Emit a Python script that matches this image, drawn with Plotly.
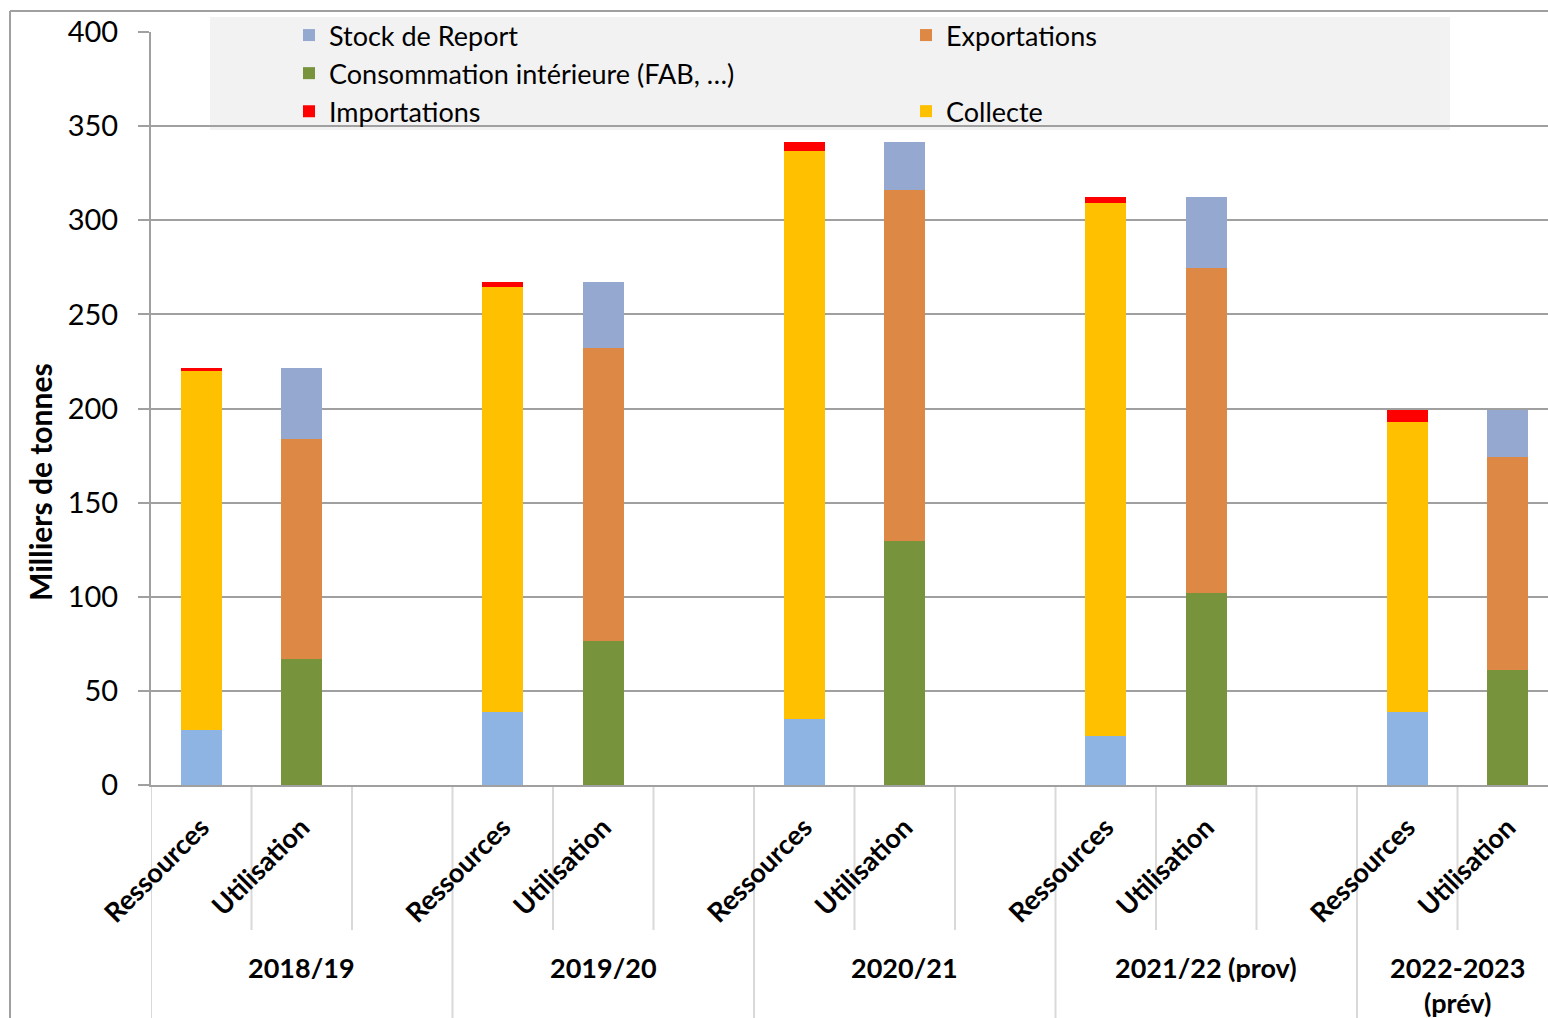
import plotly.graph_objects as go

# ---------------- data ----------------
years = ["2018/19", "2019/20", "2020/21", "2021/22 (prov)", "2022-2023<br>(prév)"]
sides = ["Ressources", "Utilisation"]
slots_per_group = [3, 3, 3, 3, 2]

stock_initial = [29, 39, 35, 26, 39]          # Ressources
collecte = [191, 225.5, 302, 283, 154]         # Ressources
importations = [1.5, 2.5, 4.5, 3.5, 6]         # Ressources
conso = [67, 76.5, 129.5, 102, 61]             # Utilisation
exportations = [117, 155.5, 186.5, 172.5, 113] # Utilisation
stock_report = [37.5, 35, 25.5, 38, 25]        # Utilisation

y_ticks = [0, 50, 100, 150, 200, 250, 300, 350, 400]

# ---------------- layout helpers ----------------
W, H = 1548, 1018
ML, MR, MT, MB = 151, 0, 32, 233
PW, PH = W - ML - MR, H - MT - MB
SLOT_PX = 100.5

def px_to_paper_x(px):
    return (px - ML) / PW

def px_to_paper_y(py):
    return (H - MB - py) / PH

starts = []
s = 0
for n in slots_per_group:
    starts.append(s)
    s += n
res_x = [st + 0.5 for st in starts]
util_x = [st + 1.5 for st in starts]

FONT = "Lato"
C_STOCK_INIT = "#8DB4E2"
C_STOCK = "#95A9D0"
C_COLLECTE = "#FFC000"
C_IMPORT = "#FF0000"
C_CONSO = "#77933C"
C_EXPORT = "#DD8844"

fig = go.Figure()
bw = 0.41

fig.add_trace(go.Bar(x=res_x, y=stock_initial, width=bw, marker_color=C_STOCK_INIT,
                     name="Stock de Report", legendgroup="stock", showlegend=False))
fig.add_trace(go.Bar(x=res_x, y=collecte, width=bw, marker_color=C_COLLECTE,
                     name="Collecte", legendgroup="collecte", legend="legend2", legendrank=2))
fig.add_trace(go.Bar(x=res_x, y=importations, width=bw, marker_color=C_IMPORT,
                     name="Importations", legendgroup="import", legendrank=3))
fig.add_trace(go.Bar(x=util_x, y=conso, width=bw, marker_color=C_CONSO,
                     name="Consommation intérieure (FAB, …)", legendgroup="conso", legendrank=2))
fig.add_trace(go.Bar(x=util_x, y=exportations, width=bw, marker_color=C_EXPORT,
                     name="Exportations", legendgroup="export", legend="legend2", legendrank=1))
fig.add_trace(go.Bar(x=util_x, y=stock_report, width=bw, marker_color=C_STOCK,
                     name="Stock de Report", legendgroup="stock", legendrank=1))

for tr in fig.data:
    tr.marker.line.width = 0

# tick labels for sub categories
tickvals, ticktext = [], []
for i in range(len(years)):
    tickvals += [res_x[i], util_x[i]]
    ticktext += sides

shapes = []
GRAY = "#A0A0A0"
LIGHT = "#D9D9D9"
# legend background
shapes.append(dict(type="rect", xref="paper", yref="paper", layer="between",
                   x0=px_to_paper_x(210), x1=px_to_paper_x(1450),
                   y0=px_to_paper_y(130), y1=px_to_paper_y(17),
                   fillcolor="#F2F2F2", line=dict(width=0)))
# dividers
for gi, st in enumerate(starts):
    for k in range(slots_per_group[gi]):
        xb = st + k
        if xb > PW / SLOT_PX:
            continue
        ybot = px_to_paper_y(H) if k == 0 else px_to_paper_y(930)
        shapes.append(dict(type="line", xref="x", yref="paper", x0=xb, x1=xb, layer="below",
                           y0=0, y1=ybot, line=dict(color=LIGHT, width=2)))
# frame
shapes.append(dict(type="line", xref="paper", yref="paper", layer="below",
                   x0=px_to_paper_x(10), x1=px_to_paper_x(10),
                   y0=px_to_paper_y(11), y1=px_to_paper_y(H + 5),
                   line=dict(color=GRAY, width=2)))
shapes.append(dict(type="line", xref="paper", yref="paper", layer="below",
                   x0=px_to_paper_x(10), x1=px_to_paper_x(W + 5),
                   y0=px_to_paper_y(11), y1=px_to_paper_y(11),
                   line=dict(color=GRAY, width=2)))

annotations = []
for gi, yr in enumerate(years):
    cx = starts[gi] + slots_per_group[gi] / 2
    annotations.append(dict(x=cx, y=px_to_paper_y(949), xref="x", yref="paper",
                            text="<b>%s</b>" % yr, showarrow=False,
                            xanchor="center", yanchor="top",
                            font=dict(family=FONT, size=27, color="black")))
# y axis title
annotations.append(dict(x=px_to_paper_x(40), y=px_to_paper_y(482), xref="paper", yref="paper",
                        text="<b>Milliers de tonnes</b>", textangle=-90, showarrow=False,
                        xanchor="center", yanchor="middle",
                        font=dict(family=FONT, size=30, color="black")))

fig.update_layout(
    width=W, height=H,
    margin=dict(l=ML, r=MR, t=MT, b=MB, pad=0),
    paper_bgcolor="white", plot_bgcolor="white",
    barmode="stack", bargap=0,
    font=dict(family=FONT, color="black"),
    shapes=shapes, annotations=annotations,
    legend=dict(x=px_to_paper_x(289), y=px_to_paper_y(11), xanchor="left", yanchor="top",
                orientation="v", traceorder="grouped", tracegroupgap=0,
                bgcolor="rgba(0,0,0,0)", font=dict(family=FONT, size=27, color="black")),
    legend2=dict(x=px_to_paper_x(906), y=px_to_paper_y(11), xanchor="left", yanchor="top",
                 orientation="v", traceorder="grouped", tracegroupgap=38,
                 bgcolor="rgba(0,0,0,0)", font=dict(family=FONT, size=27, color="black")),
    xaxis=dict(range=[0, PW / SLOT_PX], tickmode="array", tickvals=tickvals, ticktext=ticktext,
               tickangle=-45, ticks="", showgrid=False, zeroline=False,
               showline=True, linecolor=GRAY, linewidth=2,
               tickfont=dict(family=FONT, size=27, color="black", weight="bold"),
               ticklabelstandoff=14),
    yaxis=dict(range=[0, 400], tickmode="array", tickvals=y_ticks,
               ticks="outside", ticklen=11, tickcolor=GRAY, tickwidth=2,
               showline=True, linecolor=GRAY, linewidth=2,
               showgrid=True, gridcolor=GRAY, gridwidth=2, zeroline=False,
               tickfont=dict(family=FONT, size=29, color="black"),
               ticklabelstandoff=14),
)

fig.write_html("out.html", config={"displayModeBar": False},
               post_script="document.body.style.margin='0';document.body.style.overflow='hidden';")
